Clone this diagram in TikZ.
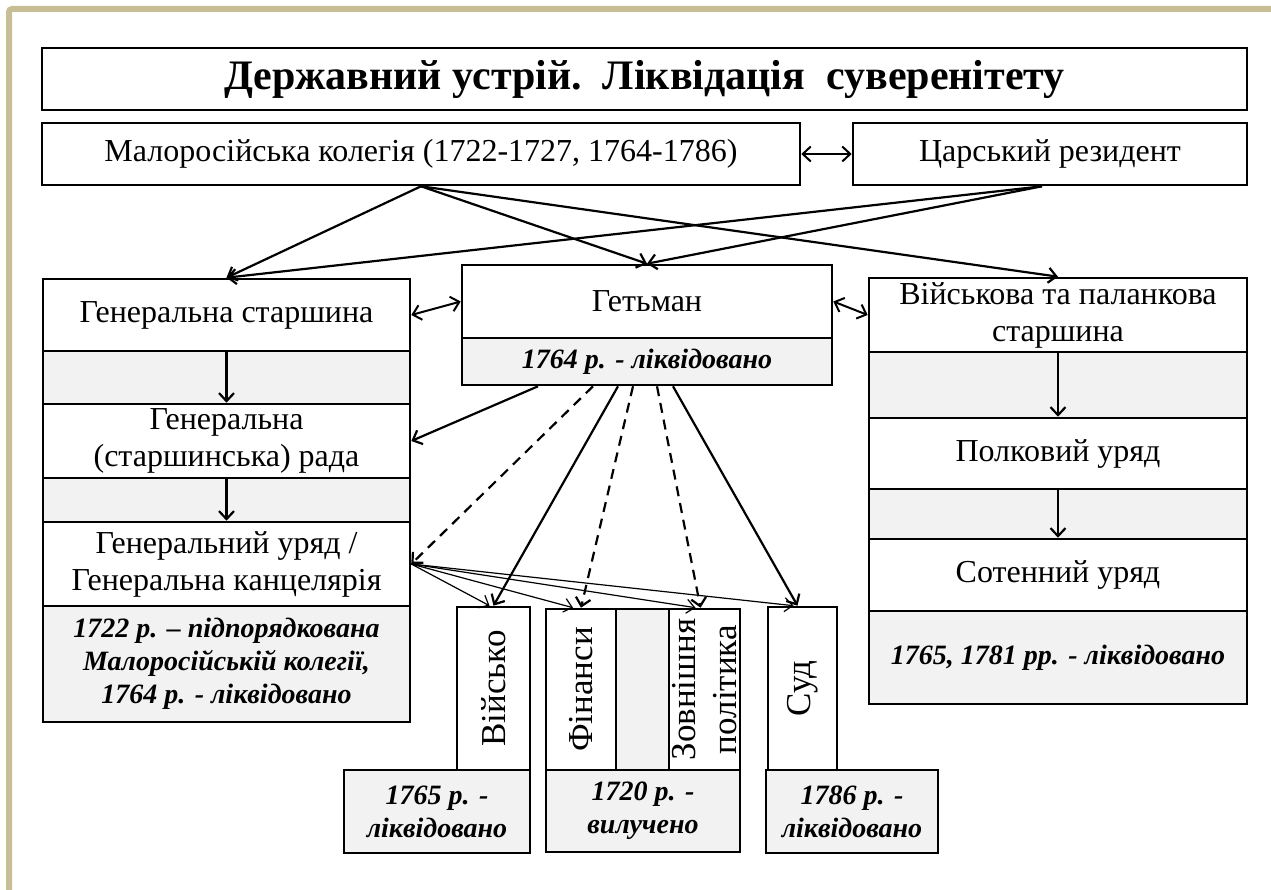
\documentclass[tikz,border=0pt]{standalone}
\usepackage{fontspec}
\setmainfont{Liberation Serif}
\usetikzlibrary{arrows.meta}
\definecolor{framebeige}{RGB}{200,190,150}
\definecolor{rowgrey}{RGB}{242,242,242}
\newcommand{\plaintext}{\fontsize{32}{37}\selectfont}
\newcommand{\datetext}{\fontsize{28}{33}\selectfont\bfseries\itshape}

\begin{document}
\begin{tikzpicture}[x=1pt,y=-1pt,
	box/.style={draw,rectangle,line width=2.6pt,inner sep=0pt,align=center,font=\plaintext},
	greybox/.style={box,fill=rowgrey,font=\datetext},
	link/.style={line width=2.2pt,-{Straight Barb[length=8pt,width=15pt]}},
	both/.style={line width=2pt,{Straight Barb[length=8pt,width=15pt]}-{Straight Barb[length=8pt,width=15pt]}},
	dlink/.style={link,dash pattern=on 10pt off 7pt},
	thinlink/.style={line width=1.2pt,-{Straight Barb[length=8pt,width=14pt]}}]
	\useasboundingbox (0,0) rectangle (1271,890);
	\draw[framebeige,line width=6pt,rounded corners=3pt] (9,890) -- (9,9) -- (1271,9);
	
	\node[box,font=\fontsize{42}{48}\selectfont\bfseries,minimum width=1205pt,minimum height=62pt] (title) at (644.5,79) {Державний устрій.\ \ Ліквідація\ \ суверенітету};
	\node[box,minimum width=758pt,minimum height=62pt] (kol) at (421,154) {Малоросійська колегія (1722-1727, 1764-1786)};
	\node[box,minimum width=394pt,minimum height=62pt] (rez) at (1050,154) {Царський резидент};
	
	\begin{scope}[every node/.append style={minimum width=367pt}]
	\node[box,minimum height=72pt] (gs) at (226.5,315) {Генеральна старшина};
	\node[greybox,minimum height=53pt] (gsg) at (226.5,377.5) {};
	\node[box,minimum height=74pt] (grada) at (226.5,441) {Генеральна\\(старшинська) рада};
	\node[greybox,minimum height=44pt] (gradag) at (226.5,500) {};
	\node[box,minimum height=84pt] (guriad) at (226.5,564) {Генеральний уряд /\\Генеральна канцелярія};
	\node[greybox,minimum height=116pt] (guriadd) at (226.5,664) {1722 р. – підпорядкована\\Малоросійській колегії,\\1764 р. - ліквідовано};
	\end{scope}
	
	\node[box,minimum width=370pt,minimum height=73pt] (het) at (647,301.5) {Гетьман};
	\node[greybox,minimum width=370pt,minimum height=47pt] (hetd) at (647,361.5) {1764 р. - ліквідовано};
	
	\begin{scope}[every node/.append style={minimum width=378pt}]
	\node[box,minimum height=74pt] (vps) at (1058,315) {Військова та паланкова\\старшина};
	\node[greybox,minimum height=66pt] (vpsg) at (1058,385) {};
	\node[box,minimum height=71pt] (polk) at (1058,453.5) {Полковий уряд};
	\node[greybox,minimum height=50pt] (polkg) at (1058,514) {};
	\node[box,minimum height=72pt] (sot) at (1058,575) {Сотенний уряд};
	\node[greybox,minimum height=93pt] (sotd) at (1058,657.5) {1765, 1781 рр. - ліквідовано};
	\end{scope}
	
	\node[box,minimum width=73pt,minimum height=163pt] (viy) at (493.5,688.5) {};
	\node[greybox,minimum width=186pt,minimum height=83pt] (viyd) at (437,811.5) {1765 р. -\\ліквідовано};
	\node[box,minimum width=70pt,minimum height=161pt] (fin) at (581,689.5) {};
	\node[box,fill=rowgrey,minimum width=53pt,minimum height=161pt] (fmid) at (642.5,689.5) {};
	\node[box,minimum width=71pt,minimum height=161pt] (zov) at (704.5,689.5) {};
	\node[greybox,minimum width=194pt,minimum height=82pt] (find) at (643,811) {1720 р. -\\вилучено};
	\node[box,minimum width=69pt,minimum height=163pt] (sud) at (802.5,688.5) {};
	\node[greybox,minimum width=172pt,minimum height=83pt] (sudd) at (852,811.5) {1786 р. -\\ліквідовано};
	
	\begin{scope}[every node/.style={rotate=90,align=center,font=\fontsize{35}{41}\selectfont}]
	\node (viyt) at (viy) {Військо};
	\node (fint) at (fin) {Фінанси};
	\node (zovt) at (zov) {Зовнішня\\політика};
	\node (sudt) at (sud) {Суд};
	\end{scope}
	
	\path[both] (kol.east) edge (rez.west);
	\path[link] (kol.south) edge (gs.north);
	\path[link] (kol.south) edge (het.north);
	\path[link] (kol.south) edge (vps.north);
	\path[link] ([xshift=-8pt]rez.south) edge (gs.north);
	\path[link] ([xshift=-8pt]rez.south) edge (het.north);
	\path[both] (gs.east) edge (het.west);
	\path[both] (het.east) edge (vps.west);
	
	\path[link] (gs.south) edge (grada.north);
	\path[link] (grada.south) edge (guriad.north);
	\path[link] (vps.south) edge (polk.north);
	\path[link] (polk.south) edge (sot.north);
	
	\path[link] ([xshift=-109pt]hetd.south) edge (grada.east);
	\path[dlink] ([xshift=-54pt]hetd.south) edge (guriad.east);
	\path[link] ([xshift=-29pt]hetd.south) edge (viy.north);
	\path[dlink] ([xshift=-14pt]hetd.south) edge (fin.north);
	\path[dlink] ([xshift=10pt]hetd.south) edge ([xshift=-4pt]zov.north);
	\path[link] ([xshift=26pt]hetd.south) edge ([xshift=-5pt]sud.north);
	
	\path[thinlink] (guriad.east) edge ([xshift=-4pt]viy.north);
	\path[thinlink] (guriad.east) edge ([xshift=-8pt]fin.north);
	\path[thinlink] (guriad.east) edge ([xshift=-9pt]zov.north);
	\path[thinlink] (guriad.east) edge ([xshift=-9pt]sud.north);
\end{tikzpicture}
\end{document}
